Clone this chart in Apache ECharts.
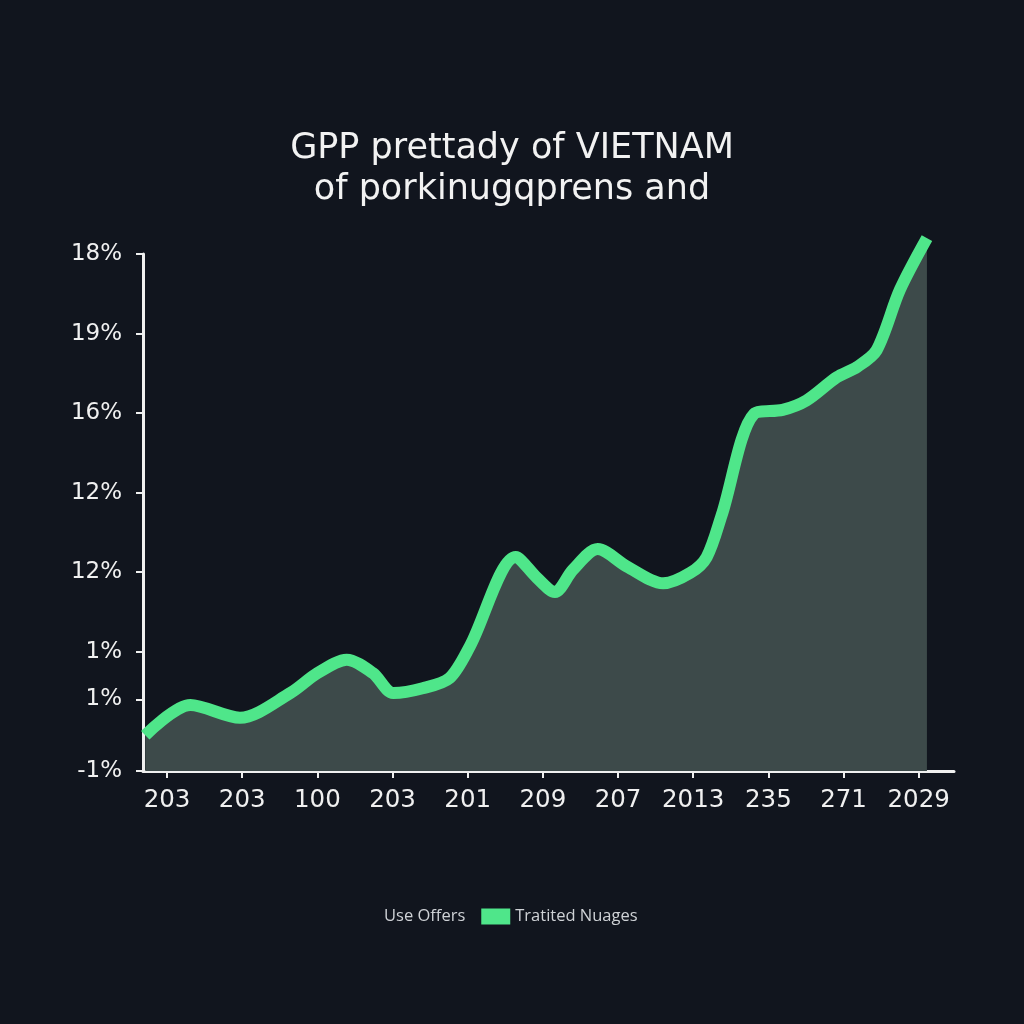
<!DOCTYPE html>
<html>
<head>
<meta charset="utf-8">
<script src="https://cdn.jsdelivr.net/npm/echarts@6/dist/echarts.min.js"></script>
<style>
html,body{margin:0;padding:0;background:#11151e;}
#c{width:1024px;height:1024px;}
</style>
</head>
<body>
<div id="c"></div>
<script>
// Tick labels
var xTickLabels = ['203','203','100','203','201','209','207','2013','235','271','2029'];
var xTickPos = [0,1,2,3,4,5,6,7,8,9,10];
var yTickLabels = ['-1%','1%','1%','12%','12%','16%','19%','18%'];
var yTickPos = [0,0.9,1.5,2.5,3.5,4.5,5.5,6.5];

// Series (x position measured in tick steps, value in axis units)
var seriesX = [-0.29,0.31,0.97,1.64,2.00,2.39,2.74,3.01,3.40,3.76,4.03,4.64,4.92,5.16,5.40,5.73,6.12,6.60,6.96,7.18,7.38,7.81,8.19,8.51,8.91,9.18,9.44,9.75,10.11];
var seriesY = [0.45,0.83,0.67,0.98,1.23,1.40,1.23,0.98,1.04,1.17,1.57,2.69,2.43,2.25,2.53,2.79,2.57,2.36,2.49,2.69,3.22,4.49,4.54,4.66,4.95,5.08,5.29,6.05,6.70];

var lineData = seriesX.map(function(x,i){return [x, seriesY[i]];});

var chart = echarts.init(document.getElementById('c'), null, {renderer:'canvas'});
var axisFont = 'DejaVu Sans';
chart.setOption({
  backgroundColor: '#11151e',
  animation: false,
  title: {
    text: 'GPP prettady of VIETNAM\nof porkinugqprens and',
    left: 'center',
    top: 123,
    textStyle: {color:'#f2f2f2', fontSize:35, fontWeight:'normal', fontFamily:'DejaVu Sans', lineHeight:41}
  },
  legend: {
    top: 903,
    left: 345,
    itemWidth: 29,
    itemHeight: 16,
    itemGap: 16,
    textStyle: {color:'#cfd2d6', fontSize:16.5, fontFamily:'Open Sans'},
    data: [{name:'Use Offers', icon:'none'}, {name:'Tratited Nuages', icon:'rect'}]
  },
  grid: {left:143, right:70, top:254, bottom:253, containLabel:false},
  xAxis: {
    type:'value', min:-0.32, max:10.47,
    axisLine:{show:true, onZero:true, lineStyle:{color:'#f0f0f0', width:3}},
    axisTick:{show:true, length:7, lineStyle:{color:'#f0f0f0', width:2}, customValues:xTickPos},
    axisLabel:{color:'#f0f0f0', fontSize:24.5, fontFamily:axisFont, margin:17, customValues:xTickPos,
      formatter:function(v){var i=Math.round(v); return xTickLabels[i]||'';}},
    splitLine:{show:false}
  },
  yAxis: {
    type:'value', min:0, max:6.5,
    axisLine:{show:true, onZero:false, lineStyle:{color:'#f0f0f0', width:3}},
    axisTick:{show:true, length:7, lineStyle:{color:'#f0f0f0', width:2}, customValues:yTickPos},
    axisLabel:{color:'#f0f0f0', fontSize:23, fontFamily:axisFont, margin:21, customValues:yTickPos,
      formatter:function(v){var i=yTickPos.indexOf(Math.round(v*10)/10); return i>=0?yTickLabels[i]:'';}},
    splitLine:{show:false}
  },
  series: [
    {name:'Use Offers', type:'line', data:[], itemStyle:{color:'#11151e'}},
    {name:'Tratited Nuages', type:'line', data: lineData, smooth:0.3, symbol:'none', clip:false,
     itemStyle:{color:'#4fe68a'},
     lineStyle:{color:'#4fe68a', width:12, cap:'butt', join:'round'},
     areaStyle:{color:'#3d4a4a', opacity:1}
    }
  ]
});
</script>
</body>
</html>
